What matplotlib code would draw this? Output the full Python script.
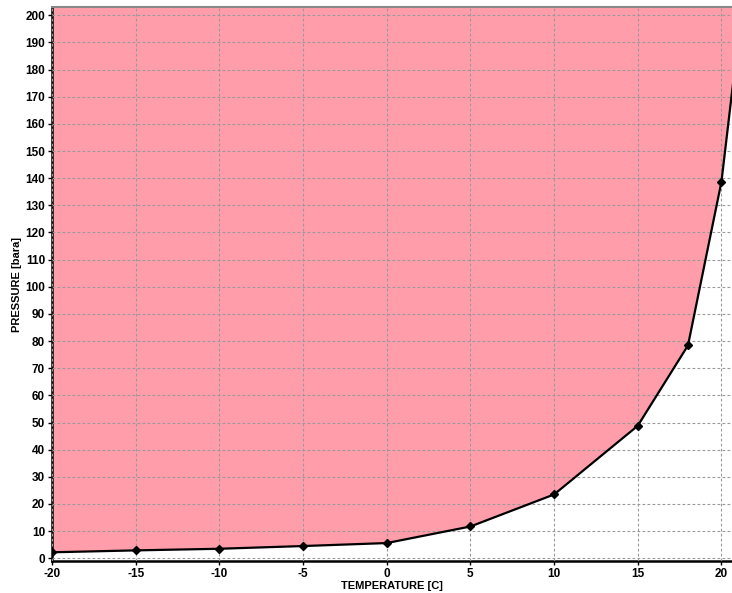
import matplotlib
matplotlib.use("Agg")
import matplotlib.pyplot as plt

# hydrate curve points
temperature = [-20, -15, -10, -5, 0, 5, 10, 15, 18, 20, 21]
pressure = [2.2, 2.9, 3.5, 4.5, 5.6, 11.7, 23.5, 48.8, 78.4, 138.7, 191]

x_ticks = list(range(-20, 25, 5))
y_ticks = list(range(0, 210, 10))

plt.rcParams['font.family'] = ['Liberation Sans', 'DejaVu Sans']
plt.rcParams['axes.unicode_minus'] = False

fig = plt.figure(figsize=(7.32, 5.93), dpi=100)
ax = fig.add_axes([0.071, 0.054, 0.929, 0.934])

# shaded hydrate region above the curve
ax.fill_between(temperature, pressure, 250, color='#ff9eaa', lw=0, zorder=1)
ax.plot(temperature, pressure, color='black', lw=1.6, marker='D', ms=4.5, zorder=3)

ax.set_xlim(-20, 20.63)
ax.set_ylim(-1, 203)
ax.set_xticks(x_ticks)
ax.set_yticks(y_ticks)
ax.grid(True, linestyle=(0, (2.5, 2)), color='#999999', lw=0.8, zorder=2)
ax.set_axisbelow(False)

for lab in ax.get_xticklabels() + ax.get_yticklabels():
    lab.set_fontweight('bold')
ax.tick_params(labelsize=8.5, length=3, width=1, pad=2)

ax.spines['left'].set_linewidth(1.8)
ax.spines['bottom'].set_linewidth(1.8)
ax.spines['top'].set_color('#888888')
ax.spines['top'].set_linewidth(1.5)
ax.spines['right'].set_visible(False)

ax.set_xlabel('TEMPERATURE [C]', fontsize=8, fontweight='bold', labelpad=1)
ax.set_ylabel('PRESSURE [bara]', fontsize=8, fontweight='bold', labelpad=2)

fig.savefig('out.png', dpi=100)
